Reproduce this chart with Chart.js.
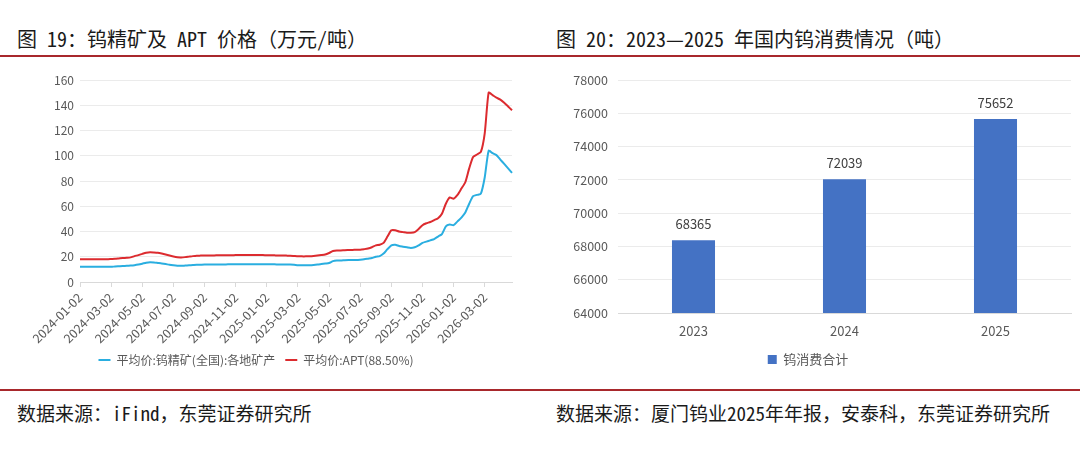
<!DOCTYPE html>
<html>
<head>
<meta charset="utf-8">
<script src="https://cdn.jsdelivr.net/npm/chart.js@4/dist/chart.umd.min.js"></script>
<style>
  html, body { margin: 0; padding: 0; background: #fff; }
  body { width: 1080px; height: 454px; position: relative; overflow: hidden; }
  .cap { position: absolute; font-family: "Noto Sans Mono CJK SC", "Noto Sans CJK SC", sans-serif; color: #1a1a1a; white-space: nowrap; }
  .title { top: 24px; font-size: 20px; font-weight: 500; }
  .src { top: 399px; font-size: 19px; }
  .rule { position: absolute; left: 0; width: 1080px; height: 2px; background: #a8282c; }
  canvas { position: absolute; }
</style>
</head>
<body>
<div class="cap title" style="left:17px">图 19：钨精矿及 APT 价格（万元/吨）</div>
<div class="cap title" style="left:556px">图 20：2023—2025 年国内钨消费情况（吨）</div>
<div class="rule" style="top:55px"></div>
<canvas id="priceChart" width="540" height="318" style="left:0;top:62px"></canvas>
<canvas id="consumeChart" width="535" height="318" style="left:545px;top:62px"></canvas>
<div class="rule" style="top:389px"></div>
<div class="cap src" style="left:17px">数据来源：iFind，东莞证券研究所</div>
<div class="cap src" style="left:556px">数据来源：厦门钨业2025年年报，安泰科，东莞证券研究所</div>

<script>
// 图19: dates are sampled four times a month (02, 09, 16, 23)
const years = [2024, 2025, 2026];
const days = ["02", "09", "16", "23"];
const dates = [];
years.forEach(function (y) {
  for (let m = 1; m <= 12; m++) {
    if (y === 2026 && m > 4) break;
    days.forEach(function (d) {
      dates.push(y + "-" + String(m).padStart(2, "0") + "-" + d);
    });
  }
});

// 平均价:钨精矿(全国):各地矿产, 万元/吨
const concentrate = [
  12, 12, 12, 12, 12, 12, 12, 12,
  12, 12.3, 12.5, 12.7, 12.8, 13, 13.3, 13.8,
  14.5, 15.3, 15.7, 15.5, 15.1, 14.7, 14.2, 13.6,
  13.2, 12.9, 12.8, 13, 13.2, 13.4, 13.6, 13.7,
  13.8, 13.8, 13.8, 13.9, 13.9, 13.9, 14, 14,
  14, 14, 14, 14, 14.1, 14.1, 14, 14,
  14, 14, 14, 13.9, 13.9, 13.8, 13.8, 13.6,
  13.3, 13.2, 13.2, 13.3, 13.5, 13.8, 14.2, 14.6,
  15, 16.5, 17, 17, 17.3, 17.5, 17.5, 17.5,
  17.7, 18, 18.5, 19, 20, 20.5, 22.5, 26,
  29, 29.5, 28.5, 28, 27.5, 27, 27.5, 29,
  31, 32, 33, 34, 36, 38, 44, 45.5,
  45, 48, 51, 55, 62, 68, 69, 70,
  83, 104, 102, 100.5, 97, 93.5, 90, 86.5
];

// 平均价:APT(88.50%), 万元/吨
const apt = [
  18, 18, 18, 18, 18, 18, 18, 18,
  18.2, 18.4, 18.7, 19, 19.2, 19.5, 20.5, 21.3,
  22.3, 23.2, 23.6, 23.4, 23.1, 22.5, 21.8, 21,
  20.2, 19.6, 19.5, 19.7, 20.1, 20.5, 20.8, 20.9,
  21, 21, 21, 21.1, 21.1, 21.2, 21.2, 21.2,
  21.3, 21.3, 21.3, 21.3, 21.4, 21.4, 21.3, 21.3,
  21.2, 21.2, 21.1, 21, 21, 20.9, 20.8, 20.6,
  20.4, 20.3, 20.3, 20.4, 20.6, 20.9, 21.3, 21.8,
  23, 24.5, 25, 25, 25.2, 25.3, 25.4, 25.5,
  25.6, 26, 26.5, 27.5, 29, 29.5, 31, 36,
  41, 41, 40, 39.5, 39, 39, 39.5, 42,
  45, 46.5, 47.5, 49, 50.5, 54, 62, 67,
  66, 69, 74, 79, 90, 99, 101, 103,
  118, 150, 148, 146, 144.5, 142, 139, 136
];

// 图20
const consumeYears = ["2023", "2024", "2025"];
const consumeTons = [68365, 72039, 75652];

const gray = "#595959";
const uiFont = "'Noto Sans CJK SC', 'Noto Sans', sans-serif";

function thinLegend(chart) {
  return Chart.defaults.plugins.legend.labels.generateLabels(chart).map(function (it) {
    it.lineWidth = 0;
    return it;
  });
}

new Chart(document.getElementById("priceChart"), {
  type: "line",
  data: {
    labels: dates,
    datasets: [
      {
        label: "平均价:钨精矿(全国):各地矿产",
        data: concentrate,
        borderColor: "#2aaee0",
        backgroundColor: "#2aaee0",
        borderWidth: 2,
        pointRadius: 0,
        tension: 0.2,
      },
      {
        label: "平均价:APT(88.50%)",
        data: apt,
        borderColor: "#dc2b2f",
        backgroundColor: "#dc2b2f",
        borderWidth: 2,
        pointRadius: 0,
        tension: 0.2,
      },
    ],
  },
  options: {
    responsive: false,
    animation: false,
    layout: { padding: { top: 18, right: 28, left: 0, bottom: 4 } },
    plugins: {
      tooltip: { enabled: false },
      legend: {
        position: "bottom",
        labels: {
          color: gray,
          font: { family: uiFont, size: 12 },
          boxWidth: 12,
          boxHeight: 2,
          padding: 10,
          generateLabels: thinLegend,
        },
      },
    },
    scales: {
      x: {
        afterFit: function (s) { s.height = 62; },
        grid: { drawOnChartArea: false, color: "#d9d9d9", tickLength: 5 },
        border: { color: "#d9d9d9" },
        ticks: {
          autoSkip: false,
          maxRotation: 45,
          minRotation: 45,
          color: gray,
          font: { family: uiFont, size: 12.5 },
          callback: function (v, i) { return i % 8 === 0 ? dates[i] : null; },
        },
      },
      y: {
        min: 0,
        max: 160,
        afterFit: function (s) { s.width = 80; },
        grid: { color: "#ebebeb", drawTicks: false },
        border: { display: false },
        ticks: { stepSize: 20, padding: 6, color: gray, font: { family: uiFont, size: 12 } },
      },
    },
  },
});

// value labels above the bars
const barValues = {
  id: "barValues",
  afterDatasetsDraw: function (chart) {
    const ctx = chart.ctx;
    ctx.save();
    ctx.fillStyle = "#404040";
    ctx.font = "13px " + uiFont;
    ctx.textAlign = "center";
    ctx.textBaseline = "middle";
    chart.getDatasetMeta(0).data.forEach(function (bar, i) {
      ctx.fillText(String(consumeTons[i]), bar.x, bar.y - 16);
    });
    ctx.restore();
  },
};

new Chart(document.getElementById("consumeChart"), {
  type: "bar",
  data: {
    labels: consumeYears,
    datasets: [
      {
        label: "钨消费合计",
        data: consumeTons,
        backgroundColor: "#4472c4",
        categoryPercentage: 1,
        barPercentage: 0.285,
      },
    ],
  },
  plugins: [barValues],
  options: {
    responsive: false,
    animation: false,
    layout: { padding: { top: 18, right: 9, left: 0, bottom: 4 } },
    plugins: {
      tooltip: { enabled: false },
      legend: {
        position: "bottom",
        labels: {
          color: gray,
          font: { family: uiFont, size: 13 },
          boxWidth: 9,
          boxHeight: 9,
          padding: 10,
        },
      },
    },
    scales: {
      x: {
        afterFit: function (s) { s.height = 30; },
        grid: { display: false },
        border: { color: "#d9d9d9" },
        ticks: { color: gray, font: { family: uiFont, size: 13 }, padding: 2 },
      },
      y: {
        min: 64000,
        max: 78000,
        afterFit: function (s) { s.width = 73; },
        grid: { color: "#ebebeb", drawTicks: false },
        border: { display: false },
        ticks: {
          stepSize: 2000,
          padding: 10,
          color: gray,
          font: { family: uiFont, size: 12.5 },
          callback: function (v) { return String(v); },
        },
      },
    },
  },
});
</script>
</body>
</html>
